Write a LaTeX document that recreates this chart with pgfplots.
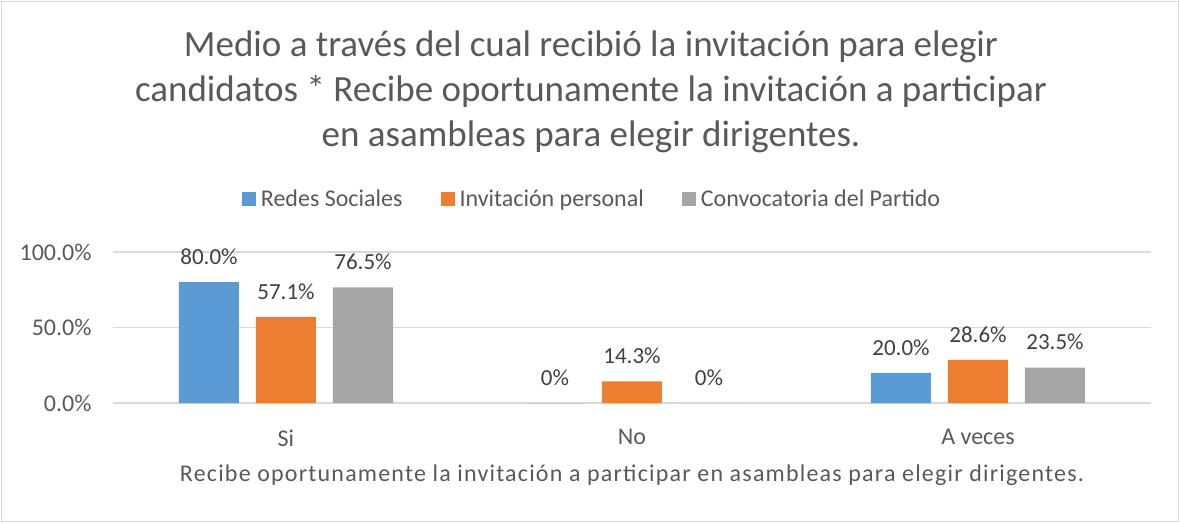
\documentclass[border=0pt]{standalone}
\usepackage{pgfplots}
\pgfplotsset{compat=1.18}
\usepackage{pgfplotstable}
\usepackage{fontspec}
\setmainfont{Carlito}
\definecolor{cblue}{HTML}{5B9BD5}
\definecolor{corange}{HTML}{ED7D31}
\definecolor{cgray}{HTML}{A5A5A5}
\definecolor{ctext}{HTML}{595959}
\definecolor{clabel}{HTML}{404040}
\definecolor{cgrid}{HTML}{D9D9D9}
\pgfplotstableread{
x y lbl
0 80.0 80.0
1 0 0
2 20.0 20.0
}\redes
\pgfplotstableread{
x y lbl
0 57.1 57.1
1 14.3 14.3
2 28.6 28.6
}\personal
\pgfplotstableread{
x y lbl
0 76.5 76.5
1 0 0
2 23.5 23.5
}\partido
\begin{document}
\begin{tikzpicture}[x=1pt,y=1pt]
\path (0,0) rectangle (1180,523);
\draw[cgrid, line width=1.2pt] (1.5,1.5) rectangle (1178.5,521.5);
\node[align=center, text=ctext, font=\fontsize{37}{45}\selectfont] at (591,431) {Medio a través del cual recibió la invitación para elegir\\candidatos * Recibe oportunamente la invitación a participar\\en asambleas para elegir dirigentes.};
\begin{axis}[
  at={(113pt,120pt)}, anchor=south west,
  scale only axis, width=1038pt, height=151pt,
  xmin=-0.5, xmax=2.5, ymin=0, ymax=100,
  ybar=17pt, bar width=60pt,
  axis line style={draw=none},
  major tick length=0pt,
  xtick={0,1,2}, xticklabels={Si,No,A veces},
  ytick={0,50,100}, yticklabels={0.0\%,50.0\%,100.0\%},
  ymajorgrids, grid style={cgrid, line width=1.2pt},
  tick label style={font=\fontsize{24}{28}\selectfont, text=ctext},
  yticklabel style={xshift=-18pt},
  xticklabel style={yshift=-23pt},
  xlabel={\addfontfeature{LetterSpace=5}Recibe oportunamente la invitación a participar en asambleas para elegir dirigentes.},
  xlabel style={font=\fontsize{24}{28}\selectfont, text=ctext, at={(axis description cs:0.5,-0.48)}, anchor=center},
  point meta=explicit symbolic,
  nodes near coords={\pgfplotspointmeta\%},
  every node near coord/.append style={font=\fontsize{23}{27}\selectfont, text=clabel, yshift=14pt},
  legend columns=3,
  legend style={at={(axis description cs:0.4615,1.351)}, anchor=center, draw=none, fill=none,
    font=\fontsize{24}{28}\selectfont, text=ctext,
    /tikz/every even column/.append style={column sep=36pt}},
  legend image code/.code={\fill[#1] (0pt,-7pt) rectangle (14pt,7pt); \path (17pt,0pt);},
]
\addplot[fill=cblue, draw=none] table[x=x, y=y, meta=lbl] {\redes};
\addplot[fill=corange, draw=none] table[x=x, y=y, meta=lbl] {\personal};
\addplot[fill=cgray, draw=none] table[x=x, y=y, meta=lbl] {\partido};
\legend{Redes Sociales, Invitación personal, Convocatoria del Partido}
\end{axis}
\end{tikzpicture}
\end{document}
